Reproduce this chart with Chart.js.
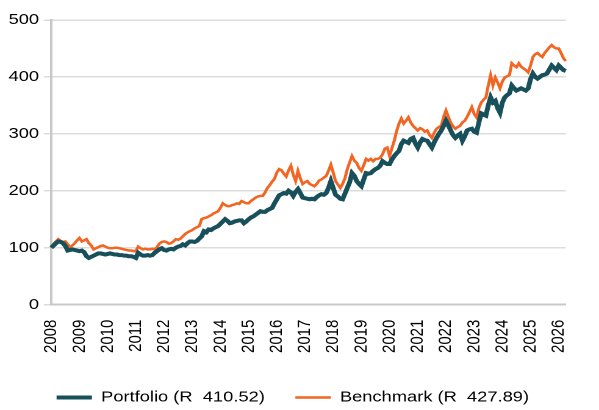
<!DOCTYPE html>
<html>
<head>
<meta charset="utf-8">
<script src="https://cdn.jsdelivr.net/npm/chart.js@4/dist/chart.umd.min.js"></script>
<style>
  html, body { margin: 0; padding: 0; background: #fff; overflow: hidden; }
  /* the reference is a little wider than tall text would suggest, so stretch the drawing */
  #wrap { width: 491px; height: 410px; transform: scaleX(1.22); transform-origin: 0 0; }
</style>
</head>
<body>
<div id="wrap"><canvas id="myChart"></canvas></div>
<script>
// Month labels Jan 2008 .. Apr 2026
const months = [];
for (let y = 2008; y <= 2026; y++) {
    for (let m = 1; m <= 12; m++) {
        if (y === 2026 && m > 4) break;
        months.push(y + "-" + String(m).padStart(2, "0"));
    }
}

// Portfolio values, one row per year
const portfolio = [
    100, 104, 108, 111, 110, 108, 103, 95, 96, 97, 96, 95,
    94, 95, 92, 85, 82, 84, 86, 88, 90, 90, 89, 88,
    89, 90, 89, 88, 88, 87, 87, 86, 86, 85, 85, 84,
    82, 91, 88, 86, 86, 87, 86, 87, 91, 94, 97, 99,
    96, 95, 97, 98, 97, 100, 102, 103, 106, 104, 108, 111,
    111, 110, 112, 116, 120, 129, 127, 132, 131, 134, 136, 138,
    142, 146, 150, 147, 143, 144, 146, 147, 148, 148, 143, 146,
    150, 153, 155, 158, 161, 164, 163, 163, 166, 168, 170, 178,
    185, 192, 194, 196, 195, 200, 197, 191, 198, 203, 196, 188,
    187, 186, 185, 186, 185, 189, 192, 194, 193, 196, 205, 217,
    205, 193, 190, 186, 185, 195, 205, 215, 231, 226, 217, 212,
    208, 220, 231, 230, 231, 235, 238, 240, 244, 252, 249, 247,
    247, 255, 261, 266, 270, 282, 288, 286, 284, 291, 293, 283,
    276, 285, 291, 289, 288, 282, 276, 285, 293, 300, 306, 314,
    323, 315, 306, 298, 293, 297, 300, 288, 296, 306, 308, 309,
    304, 302, 320, 336, 334, 332, 350, 364, 355, 358, 345, 337,
    355, 364, 368, 371, 385, 380, 376, 378, 380, 378, 376, 380,
    396, 406, 400, 397, 400, 403, 404, 406, 413, 420, 416, 412,
    420, 416, 412, 410.52
];

// Benchmark values, one row per year
const benchmark = [
    100, 106, 111, 115, 112, 110, 111, 106, 101, 104, 108, 113,
    117, 111, 113, 115, 108, 104, 97, 99, 101, 103, 104, 102,
    100, 99, 99, 100, 100, 99, 98, 97, 96, 95, 95, 94,
    94, 102, 99, 97, 98, 97, 97, 98, 97, 101, 107, 110,
    111, 110, 107, 108, 111, 115, 114, 116, 120, 124, 127, 129,
    131, 134, 136, 138, 150, 152, 153, 155, 157, 160, 162, 164,
    170, 178, 175, 173, 173, 175, 176, 178, 177, 182, 180, 178,
    178, 182, 185, 188, 190, 191, 191, 197, 205, 210, 216, 221,
    232, 238, 236, 230, 225, 236, 244, 228, 217, 235, 222, 212,
    215, 217, 212, 210, 208, 212, 218, 220, 223, 226, 235, 246,
    232, 217, 211, 205, 212, 222, 238, 250, 261, 253, 249, 240,
    235, 245, 256, 253, 256, 252, 256, 256, 258, 264, 274, 276,
    261, 275, 288, 305, 318, 327, 318, 323, 329, 320, 314, 310,
    306, 310, 308, 304, 306, 298, 293, 302, 309, 312, 314, 330,
    341, 330, 320, 313, 309, 312, 314, 320, 323, 330, 338, 347,
    335, 329, 345, 355, 360, 364, 385, 403, 385, 399, 390, 380,
    392, 399, 401, 403, 424, 420, 417, 424, 418, 415, 412, 408,
    420, 435, 440, 442, 438, 435, 442, 447, 452, 456, 452, 450,
    450, 442, 433, 427.89
];

const seriesNames = ["Portfolio (R  410.52)", "Benchmark (R  427.89)"];
const yTicks = [0, 100, 200, 300, 400, 500];

const font = "'Liberation Sans', Arial, sans-serif";

// nudge the legend row a little to the left, like the original
const legendShift = {
    id: "legendShift",
    afterLayout(chart) {
        chart.legend.left -= 7;
        chart.legend.right -= 7;
    }
};

const ctx = document.getElementById("myChart").getContext("2d");
new Chart(ctx, {
    type: "line",
    data: {
        labels: months,
        datasets: [
            {
                label: seriesNames[0],
                data: portfolio,
                borderColor: "#17505a",
                backgroundColor: "#17505a",
                borderWidth: 4,
                pointRadius: 0,
                tension: 0
            },
            {
                label: seriesNames[1],
                data: benchmark,
                borderColor: "#f26522",
                backgroundColor: "#f26522",
                borderWidth: 2.5,
                pointRadius: 0,
                tension: 0
            }
        ]
    },
    plugins: [legendShift],
    options: {
        responsive: true,
        maintainAspectRatio: false,
        animation: false,
        devicePixelRatio: 2,
        layout: { padding: { left: 3, right: 0, top: 20, bottom: -5 } },
        plugins: {
            tooltip: { enabled: false },
            legend: {
                position: "bottom",
                labels: {
                    usePointStyle: true,
                    pointStyle: "line",
                    pointStyleWidth: 29,
                    boxHeight: 15,
                    padding: 25,
                    color: "#000",
                    font: { family: font, size: 15 }
                }
            }
        },
        scales: {
            x: {
                grid: { display: false, drawTicks: false },
                border: { color: "#c8c8c8", width: 2 },
                afterFit: function (axis) {
                    axis.height -= 3;
                },
                ticks: {
                    autoSkip: false,
                    minRotation: 90,
                    maxRotation: 90,
                    padding: 15,
                    color: "#000",
                    font: { family: font, size: 15 },
                    callback: function (v, i) {
                        return months[i].endsWith("-01") ? months[i].slice(0, 4) : null;
                    }
                }
            },
            y: {
                min: 0,
                max: 500,
                afterBuildTicks: function (axis) {
                    axis.ticks = yTicks.map(v => ({ value: v }));
                },
                grid: { color: "#dcdcdc", lineWidth: 1.5, tickLength: 6 },
                border: { color: "#c8c8c8", width: 2 },
                ticks: {
                    padding: 4,
                    color: "#000",
                    font: { family: font, size: 15 }
                }
            }
        }
    }
});
</script>
</body>
</html>
